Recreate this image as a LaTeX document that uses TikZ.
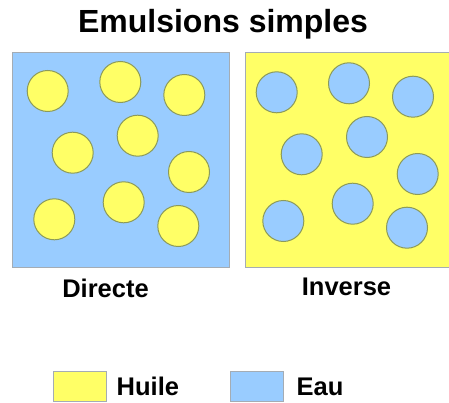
\documentclass[tikz,border=0pt]{standalone}
\usepackage{fontspec}
\setmainfont{Liberation Sans}
\definecolor{oil}{HTML}{FFFF66}
\definecolor{water}{HTML}{99CCFF}
\definecolor{rim}{HTML}{8C9A5A}
\definecolor{boxrim}{HTML}{A4ACB4}
\begin{document}
\begin{tikzpicture}[x=1pt,y=-1pt,
  drop/.style={circle,draw=rim,line width=1pt,minimum size=41pt,inner sep=0pt},
  lab/.style={font=\fontsize{25.5}{28}\selectfont\bfseries,inner sep=0pt,anchor=base},
  swatch/.style={draw=boxrim,line width=0.8pt,minimum width=53pt,minimum height=30pt,inner sep=0pt}]
\useasboundingbox (0,0) rectangle (449,403);
\fill[white] (0,0) rectangle (449,403);
\node[font=\fontsize{32}{36}\selectfont\bfseries,inner sep=0pt,anchor=base] (title) at (223,33) {Emulsions simples};
% left box
\node[draw=boxrim,line width=0.8pt,fill=water,minimum width=217pt,minimum height=215pt,inner sep=0pt,anchor=north west] (left) at (12,52) {};
% right box (clipped at picture edge)
\fill[oil] (245,52) rectangle (449,267);
\draw[boxrim,line width=0.8pt] (449,52) -- (245,52) -- (245,267) -- (449,267);
\coordinate (right) at (347,160);
\foreach \n/\x/\y in {1/47.7/91,2/120.3/82,3/184.3/95,4/72.7/152.7,5/137.7/135.7,6/189/172,7/54.3/219.3,8/123.7/202.3,9/178.3/226}{
  \node[drop,fill=oil] (l\n) at (\x,\y) {};
}
\foreach \n/\x/\y in {1/276.7/92.3,2/349/83.3,3/413/96.7,4/301.7/154.3,5/367/137,6/417.7/174,7/283.3/221,8/352.7/203.7,9/407/227.7}{
  \node[drop,fill=water] (r\n) at (\x,\y) {};
}
\node[lab] (directe) at (105.5,297) {Directe};
\node[lab] (inverse) at (346.5,295) {Inverse};
% legend
\node[swatch,fill=oil] (sy) at (79.5,386) {};
\node[lab,anchor=base west] (huile) at (116.5,395) {Huile};
\node[swatch,fill=water] (sb) at (256.5,386) {};
\node[lab,anchor=base west] (eau) at (296.5,395) {Eau};
\end{tikzpicture}
\end{document}
